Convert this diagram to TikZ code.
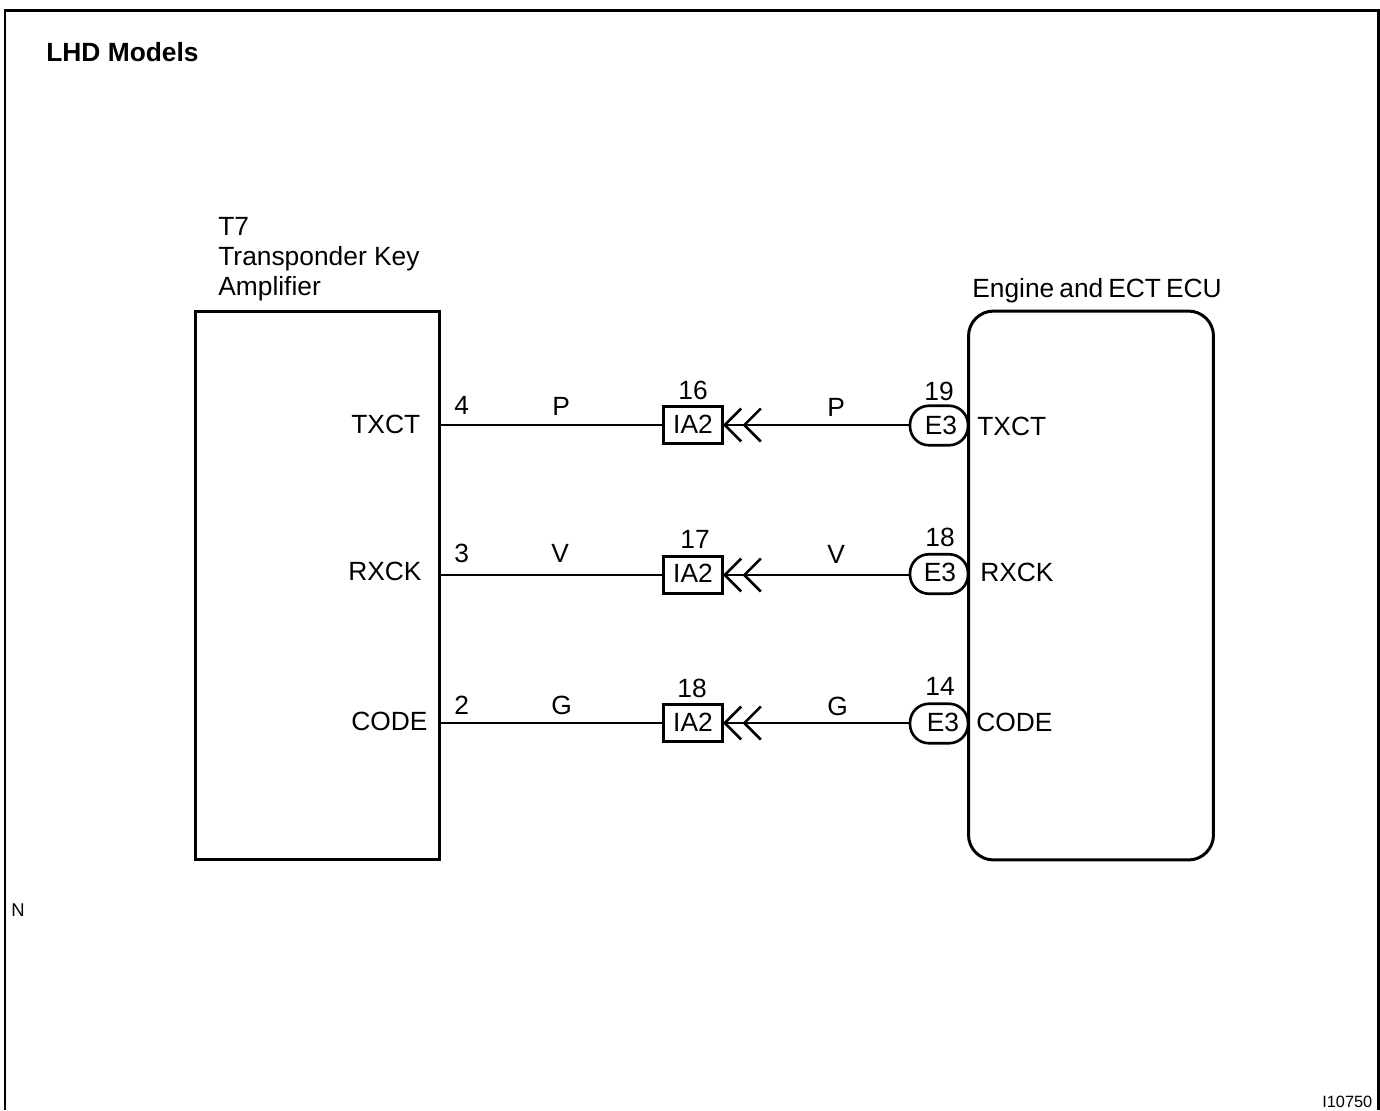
\documentclass[tikz,border=0pt]{standalone}
\usepackage{fontspec}
\setmainfont{Liberation Sans}
\usetikzlibrary{arrows.meta}
\tikzstyle{unit} = [draw, line width=1.7pt, minimum width=4.9cm, minimum height=10.98cm, inner sep=0pt]
\tikzstyle{junction} = [draw, line width=1.5pt, minimum width=1.18cm, minimum height=.74cm, inner sep=0pt, text depth=.07cm, font=\fontsize{15}{18}\selectfont]
\tikzstyle{plug} = [draw, line width=1.5pt, minimum width=1.16cm, minimum height=.79cm, inner sep=0pt, text depth=.07cm, rounded corners=.38cm, font=\fontsize{15}{18}\selectfont]
\tikzstyle{wire} = [line width=1.15pt]
\tikzstyle{plugwire} = [line width=1.15pt, shorten <=-.08cm, {Straight Barb[length=.33cm,width=.66cm,line width=1.5pt,sep=.06cm]Straight Barb[length=.33cm,width=.66cm,line width=1.5pt]}-]
\tikzstyle{txt} = [anchor=base west, inner sep=0pt, font=\fontsize{15}{18}\selectfont]

\begin{document}
\begin{tikzpicture}[x=.02cm,y=-.02cm]
    \useasboundingbox (0,0) rectangle (1380,1110);
    \draw [line width=1.7pt] (5,1110) -- (5,10) -- (1378,10) -- (1378,1110);
    \node [txt,font=\fontsize{15}{18}\selectfont\bfseries] (title) at (46,61) {LHD Models};
    \node [txt,font=\fontsize{10.5}{12}\selectfont] (n) at (11,916) {N};
    \node [txt,font=\fontsize{9.3}{12}\selectfont] (code) at (1322,1107) {I10750};

    \draw (317.5,585.5) node[unit] (amp) {};
    \draw (1091,585.5) node[unit,rounded corners=.5cm] (ecu) {};
    \node [txt] (ampa) at (218,235) {T7};
    \node [txt] (ampb) at (218,265) {Transponder Key};
    \node [txt] (ampc) at (218,295) {Amplifier};
    \node [txt] (ecuname) at (972,297) {\spaceskip=.19em Engine and ECT ECU};

    % top row
    \draw (693,425) node[junction,text depth=.02cm] (ia) {IA2};
    \draw (939,425.5) node[plug,text depth=0cm] (ea) {\hspace{.08cm}E3};
    \coordinate (sa) at (amp.east |- ia);
    \draw [wire] (sa) -- (ia);
    \draw [plugwire] (ia.east) -- (ia.east -| ea.west);
    \node [txt] at (454,414) {4};
    \node [txt] at (552,415) {P};
    \node [txt] at (678,399) {16};
    \node [txt] at (827,416) {P};
    \node [txt] at (924,400) {19};
    \node [txt] at (351,433) {TXCT};
    \node [txt] at (977,435) {TXCT};

    % middle row
    \draw (693,575) node[junction] (ib) {IA2};
    \draw (939,574) node[plug] (eb) {\hspace{.04cm}E3};
    \coordinate (sb) at (amp.east |- ib);
    \draw [wire] (sb) -- (ib);
    \draw [plugwire] (ib.east) -- (ib.east -| eb.west);
    \node [txt] at (454,562) {3};
    \node [txt] at (551,562) {V};
    \node [txt] at (680,548) {17};
    \node [txt] at (827,563) {V};
    \node [txt] at (925,546) {18};
    \node [txt] at (348,580) {RXCK};
    \node [txt] at (980,581) {RXCK};

    % bottom row
    \draw (693,723) node[junction,text depth=.04cm] (ic) {IA2};
    \draw (939,723.5) node[plug,text depth=.04cm] (ec) {\hspace{.16cm}E3};
    \coordinate (sc) at (amp.east |- ic);
    \draw [wire] (sc) -- (ic);
    \draw [plugwire] (ic.east) -- (ic.east -| ec.west);
    \node [txt] at (454,714) {2};
    \node [txt] at (551,714) {G};
    \node [txt] at (677,697) {18};
    \node [txt] at (827,715) {G};
    \node [txt] at (925,695) {14};
    \node [txt] at (351,730) {CODE};
    \node [txt] at (976,731) {CODE};
\end{tikzpicture}
\end{document}
